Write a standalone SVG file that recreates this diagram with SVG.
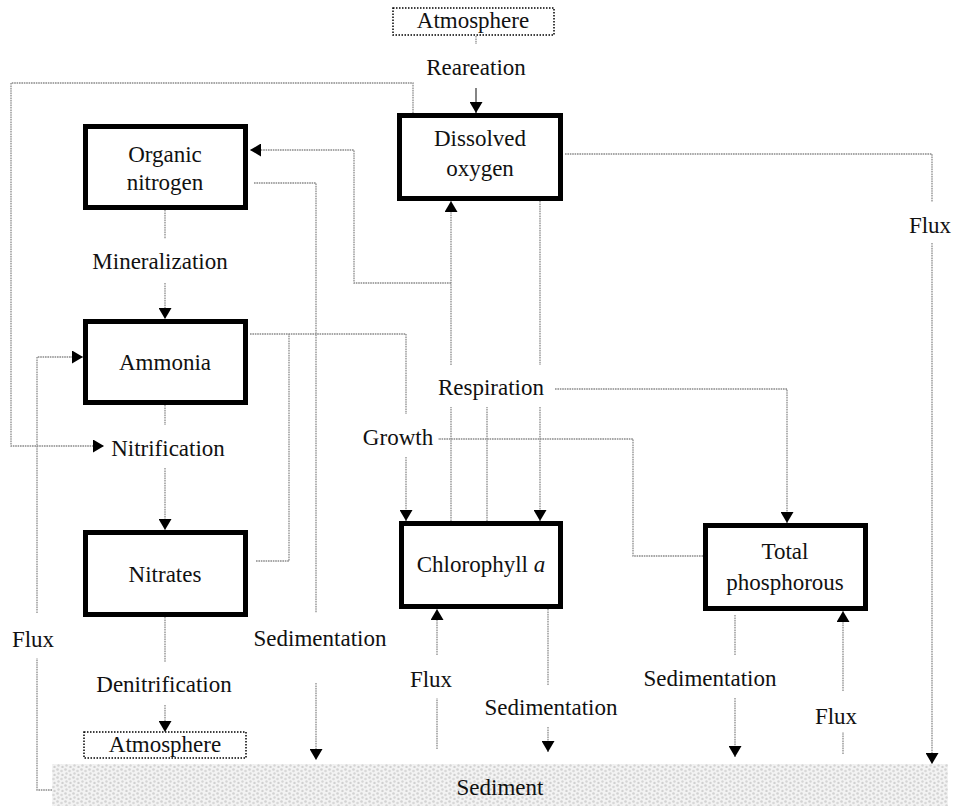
<svg xmlns="http://www.w3.org/2000/svg" width="956" height="806" viewBox="0 0 956 806">
<style>
.box{fill:#fff;stroke:#000;stroke-width:5}
.atm{fill:#fff;stroke:#000;stroke-width:1.5;stroke-dasharray:1.5 1.5}
.t{font-family:"Liberation Serif","Times New Roman",serif;font-size:23px;fill:#111;text-anchor:middle}
.c{fill:none;stroke:#8a8a8a;stroke-width:1.3;stroke-dasharray:1.6 0.8}
.ca{fill:none;stroke:#8a8a8a;stroke-width:1.3;stroke-dasharray:1.6 0.8;marker-end:url(#ah)}
.cb{fill:none;stroke:#333;stroke-width:1.2;marker-end:url(#ah)}
</style>
<defs>
<marker id="ah" markerUnits="userSpaceOnUse" markerWidth="13" markerHeight="13" refX="11" refY="6.5" orient="auto">
<path d="M0,0 L11,6.5 L0,13 z" fill="#000"/>
</marker>
<pattern id="sed" width="8" height="8" patternUnits="userSpaceOnUse">
<rect width="8" height="8" fill="#f3f3f3"/>
<circle cx="1.5" cy="1.5" r="1.3" fill="#d2d2d2"/>
<circle cx="5.5" cy="3" r="1.3" fill="#d8d8d8"/>
<circle cx="2.5" cy="5.5" r="1.2" fill="#d5d5d5"/>
<circle cx="6.5" cy="7" r="1.2" fill="#d0d0d0"/>
</pattern>
</defs>

<g id="sediment">
<rect x="52" y="764" width="896" height="42" fill="url(#sed)"/>
<text class="t" x="500" y="795">Sediment</text>
</g>

<g id="connectors">
<!-- Reaeration -->
<path class="c" d="M476,36 V44"/>
<path class="cb" d="M476,88 V113"/>
<!-- DO to Nitrification loop -->
<path class="ca" d="M413,113 V83 H11 V446 H104"/>
<!-- Mineralization -->
<path class="c" d="M165,210 V239"/>
<path class="ca" d="M165,283 V319"/>
<!-- Nitrification -->
<path class="c" d="M165,405 V425"/>
<path class="ca" d="M165,468 V530"/>
<!-- Denitrification -->
<path class="c" d="M165,617 V662"/>
<path class="ca" d="M165,705 V732"/>
<!-- Chl to DO -->
<path class="c" d="M451,521 V407"/>
<path class="ca" d="M451,365 V201"/>
<path class="ca" d="M451,283 H354 V150 H250"/>
<!-- DO to Chl -->
<path class="c" d="M540,201 V365"/>
<path class="ca" d="M540,407 V521"/>
<!-- Chl to Respiration -->
<path class="c" d="M487,521 V407"/>
<!-- Respiration to TP -->
<path class="ca" d="M555,389 H787 V523"/>
<!-- Organic N sedimentation -->
<path class="c" d="M254,183 H316 V613"/>
<path class="ca" d="M316,683 V760"/>
<!-- Ammonia growth -->
<path class="c" d="M250,334 H406 V414"/>
<path class="ca" d="M406,457 V521"/>
<!-- Nitrates growth -->
<path class="c" d="M256,561 H289 V334"/>
<!-- TP growth -->
<path class="c" d="M703,556 H633 V439 H438"/>
<!-- DO flux -->
<path class="c" d="M565,154 H932 V202"/>
<path class="ca" d="M932,243 V764"/>
<!-- Left flux -->
<path class="c" d="M52,790 H37 V658"/>
<path class="ca" d="M37,613 V357 H83"/>
<!-- Chl flux -->
<path class="c" d="M437,749 V698"/>
<path class="ca" d="M437,655 V609"/>
<!-- Chl sedimentation -->
<path class="c" d="M548,609 V685"/>
<path class="ca" d="M548,727 V752"/>
<!-- TP sedimentation -->
<path class="c" d="M735,615 V655"/>
<path class="ca" d="M735,698 V757"/>
<!-- TP flux -->
<path class="c" d="M843,754 V732"/>
<path class="ca" d="M843,691 V611"/>
</g>

<g id="labels">
<text class="t" x="476" y="75">Reareation</text>
<text class="t" x="160" y="269">Mineralization</text>
<text class="t" x="168" y="456">Nitrification</text>
<text class="t" x="164" y="692">Denitrification</text>
<text class="t" x="33" y="647">Flux</text>
<text class="t" x="320" y="646">Sedimentation</text>
<text class="t" x="431" y="687">Flux</text>
<text class="t" x="551" y="715">Sedimentation</text>
<text class="t" x="710" y="686">Sedimentation</text>
<text class="t" x="836" y="724">Flux</text>
<text class="t" x="930" y="233">Flux</text>
<text class="t" x="491" y="395">Respiration</text>
<text class="t" x="398" y="445">Growth</text>
</g>

<g id="atmosphere-top">
<rect class="atm" x="393" y="8" width="161" height="27"/>
<text class="t" x="473" y="28">Atmosphere</text>
</g>
<g id="atmosphere-bottom">
<rect class="atm" x="84" y="732" width="162" height="26"/>
<text class="t" x="165" y="752">Atmosphere</text>
</g>

<g id="organic-nitrogen">
<rect class="box" x="85.5" y="126.5" width="160" height="81"/>
<text class="t" x="165" y="162">Organic</text>
<text class="t" x="165" y="190">nitrogen</text>
</g>
<g id="dissolved-oxygen">
<rect class="box" x="399.5" y="115.5" width="161" height="83"/>
<text class="t" x="480" y="146">Dissolved</text>
<text class="t" x="480" y="176">oxygen</text>
</g>
<g id="ammonia">
<rect class="box" x="85.5" y="321.5" width="160" height="81"/>
<text class="t" x="165" y="370">Ammonia</text>
</g>
<g id="nitrates">
<rect class="box" x="85.5" y="532.5" width="160" height="82"/>
<text class="t" x="165" y="582">Nitrates</text>
</g>
<g id="chlorophyll-a">
<rect class="box" x="401.5" y="523.5" width="159" height="83"/>
<text class="t" x="481" y="572">Chlorophyll <tspan font-style="italic">a</tspan></text>
</g>
<g id="total-phosphorous">
<rect class="box" x="705.5" y="525.5" width="160" height="83"/>
<text class="t" x="785" y="559">Total</text>
<text class="t" x="785" y="590">phosphorous</text>
</g>
</svg>
